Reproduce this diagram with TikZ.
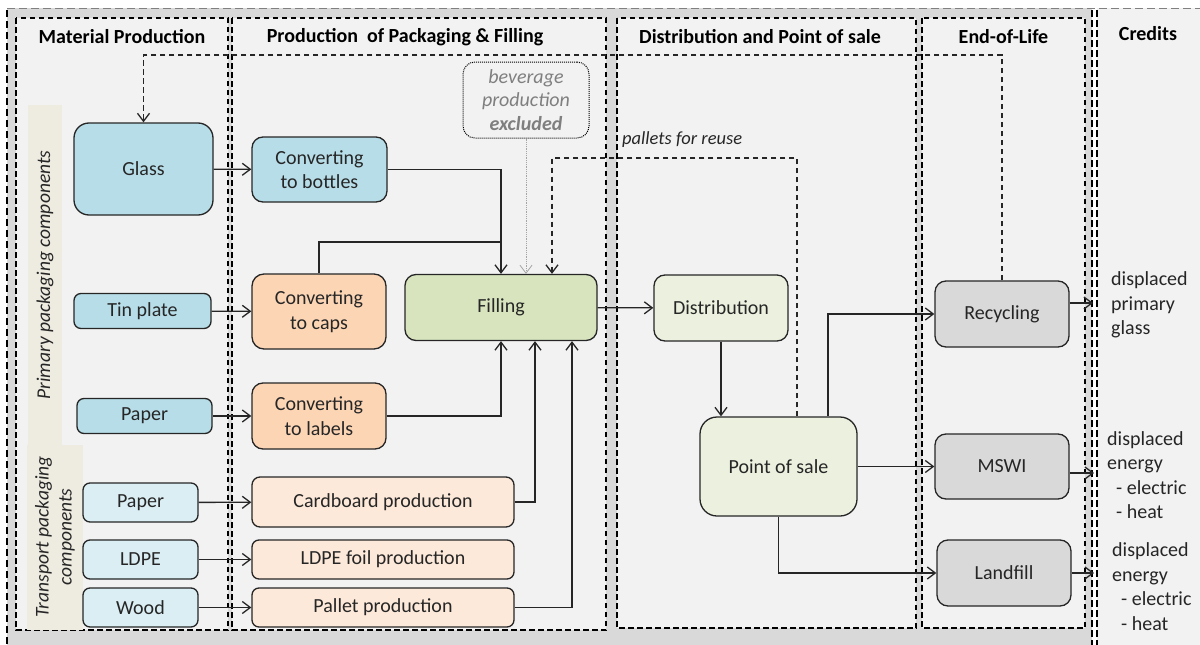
\documentclass[tikz,border=0pt]{standalone}
\usepackage{fontspec}
\setmainfont{Carlito}
\usetikzlibrary{arrows.meta}
\definecolor{bggray}{HTML}{D9D9D9}
\definecolor{panelfill}{HTML}{F2F2F2}
\definecolor{stripbeige}{HTML}{EEECE1}
\definecolor{primblue}{HTML}{B7DDE8}
\definecolor{transblue}{HTML}{DAEEF3}
\definecolor{convorange}{HTML}{FCD5B5}
\definecolor{transorange}{HTML}{FDE9D9}
\definecolor{fillgreen}{HTML}{D7E4BD}
\definecolor{distgreen}{HTML}{EBF1DE}
\definecolor{eolgray}{HTML}{D9D9D9}
\definecolor{boxline}{HTML}{262626}
\definecolor{txt}{HTML}{262626}
\definecolor{bevtext}{HTML}{7F7F7F}
\begin{document}
\begin{tikzpicture}[x=1pt, y=-1pt, >={Straight Barb[length=8pt,width=12pt]},
  font=\fontsize{20}{24.5}\selectfont,
  panel/.style={draw, fill=panelfill, line width=1.2pt, dash pattern=on 5.5pt off 3.5pt},
  box/.style={draw=boxline, line width=1.3pt, align=center, text=txt, inner sep=2pt},
  flow/.style={->, line width=1.3pt, draw=boxline},
  loopline/.style={flow, dash pattern=on 5.5pt off 3.5pt},
  title/.style={font=\fontsize{20}{24}\selectfont\bfseries},
  side/.style={rotate=90, align=center, text=txt, font=\fontsize{19.5}{23}\selectfont\itshape},
  credit/.style={anchor=west, align=left, inner sep=0pt, text=txt, font=\fontsize{20}{24.5}\selectfont}]
\useasboundingbox (0,0) rectangle (1200,645);
\fill[bggray] (7,8) rectangle (1092,645);
\fill[panelfill] (1097,8) rectangle (1200,645);
\draw[gray, line width=0.9pt, dash pattern=on 8pt off 4pt] (7,8) -- (1200,8);
\draw[line width=1.2pt, dash pattern=on 7pt off 4pt] (7,10) -- (7,645);
\draw[line width=1.2pt, dash pattern=on 7pt off 3pt] (1092,10) -- (1092,645);
\draw[line width=1.2pt, dash pattern=on 7pt off 3pt] (1097,10) -- (1097,645);

\draw[panel] (16,18) rectangle (228,630);
\draw[panel] (232,18) rectangle (606,630);
\draw[panel] (617,18) rectangle (916,628);
\draw[panel] (922,18) rectangle (1085,628);
\fill[stripbeige] (28,105) rectangle (62,445);
\fill[stripbeige] (27,445) rectangle (83,630);

\node (tmat) at (122,37) [title] {Material Production};
\node (tpack) at (405,37) [title] {Production\ \ of Packaging \& Filling};
\node (tdist) at (760,37) [title] {Distribution and Point of sale};
\node (teol) at (1003.5,37) [title] {End-of-Life};
\node (tcred) at (1148,34) [title] {Credits};

\node (prim) at (45,275) [side] {Primary packaging components};
\node (trans) at (55,537) [side] {Transport packaging\\components};

\node (glass) at (143.5,169) [box, fill=primblue, minimum width=139pt, minimum height=92pt, rounded corners=15pt] {Glass};
\node (bottles) at (319.5,169.5) [box, fill=primblue, minimum width=135pt, minimum height=65pt, rounded corners=11pt] {Converting\\to bottles};
\node (tin) at (142.5,311) [box, fill=primblue, minimum width=137pt, minimum height=35pt, rounded corners=7pt] {Tin plate};
\node (caps) at (319,311.5) [box, fill=convorange, minimum width=134pt, minimum height=75pt, rounded corners=12pt] {Converting\\to caps};
\node (paperp) at (144.5,416) [box, fill=primblue, minimum width=135pt, minimum height=35pt, rounded corners=7pt] {Paper};
\node (labels) at (319,416) [box, fill=convorange, minimum width=134pt, minimum height=66pt, rounded corners=11pt] {Converting\\to labels};
\node (papert) at (140.5,502.5) [box, fill=transblue, minimum width=115pt, minimum height=39pt, rounded corners=7pt] {Paper};
\node (ldpe) at (140.5,559.5) [box, fill=transblue, minimum width=115pt, minimum height=39pt, rounded corners=7pt] {LDPE};
\node (wood) at (140.5,607.5) [box, fill=transblue, minimum width=115pt, minimum height=39pt, rounded corners=7pt] {Wood};
\node (cardboard) at (383,502) [box, fill=transorange, minimum width=262pt, minimum height=50pt, rounded corners=8pt] {Cardboard production};
\node (foil) at (383,559.5) [box, fill=transorange, minimum width=262pt, minimum height=39pt, rounded corners=7pt] {LDPE foil production};
\node (pallet) at (383,607.5) [box, fill=transorange, minimum width=262pt, minimum height=39pt, rounded corners=7pt] {Pallet production};
\node (fill) at (501,307.5) [box, fill=fillgreen, minimum width=192pt, minimum height=66pt, rounded corners=11pt] {Filling};
\node (dist) at (721,308) [box, fill=distgreen, minimum width=134pt, minimum height=66pt, rounded corners=11pt] {Distribution};
\node (pos) at (778.5,466.5) [box, fill=distgreen, minimum width=157pt, minimum height=99pt, rounded corners=17pt] {Point of sale};
\node (recyc) at (1002,314) [box, fill=eolgray, minimum width=134pt, minimum height=66pt, rounded corners=11pt] {Recycling};
\node (mswi) at (1002,466.5) [box, fill=eolgray, minimum width=134pt, minimum height=65pt, rounded corners=11pt] {MSWI};
\node (landfill) at (1004,573) [box, fill=eolgray, minimum width=134pt, minimum height=66pt, rounded corners=11pt] {Landfill};
\node (bev) at (526,100) [draw, line width=1pt, dash pattern=on 1pt off 1pt, rounded corners=12pt, minimum width=126pt, minimum height=76pt, align=center, text=bevtext, font=\fontsize{20}{23.5}\selectfont\itshape] {beverage\\production\\\textbf{excluded}};

\node (reuse) at (622,140) [anchor=west, inner sep=0pt, text=txt, font=\fontsize{18.5}{22}\selectfont\itshape] {pallets for reuse};
\node (cr1) at (1111,305) [credit] {displaced\\primary\\glass};
\node (cr2) at (1107,475) [credit] {displaced\\energy\\\hspace*{9pt}- electric\\\hspace*{9pt}- heat};
\node (cr3) at (1112,586.5) [credit] {displaced\\energy\\\hspace*{9pt}- electric\\\hspace*{9pt}- heat};

\coordinate (capsjoin) at (501,242);
\coordinate (reusetop) at (675,158);
\coordinate (glasstop) at (600,55);
\coordinate (credrecyc) at (1093,303);
\coordinate (credmswi) at (1094,473);
\coordinate (credland) at (1094,573);

\draw[flow] (glass) -- (bottles);
\draw[flow] (tin) -- (caps);
\draw[flow] (paperp) -- (labels);
\draw[flow] (papert) -- (cardboard);
\draw[flow] (ldpe) -- (foil);
\draw[flow] (wood) -- (pallet);
\draw[flow] (bottles.east) -| (fill.north);
\draw[line width=1.3pt, boxline] (caps.north) |- (capsjoin);
\draw[flow] (labels.east) -| (fill.south);
\draw[flow] (cardboard.east) -| ([xshift=34pt]fill.south);
\draw[flow] (pallet.east) -| ([xshift=71pt]fill.south);
\draw[->, line width=0.8pt, bevtext!70, densely dotted] (bev.south) -- (bev.south |- fill.north);
\draw[flow] (fill) -- (dist);
\draw[flow] (dist.south) -- (dist.south |- pos.north);
\draw[flow] ([xshift=49.5pt]pos.north) |- (recyc.west);
\draw[flow] (pos) -- (mswi);
\draw[flow] (pos.south) |- (landfill.west);
\draw[flow] ([yshift=11pt]recyc.east) -- (credrecyc);
\draw[flow] ([yshift=-6.5pt]mswi.east) -- (credmswi);
\draw[flow] (landfill.east) -- (credland);
\draw[loopline] ([xshift=18.5pt]pos.north) |- (reusetop) -| ([xshift=51pt]fill.north);
\draw[loopline] (recyc.north) |- (glasstop) -| (glass.north);
\end{tikzpicture}
\end{document}
